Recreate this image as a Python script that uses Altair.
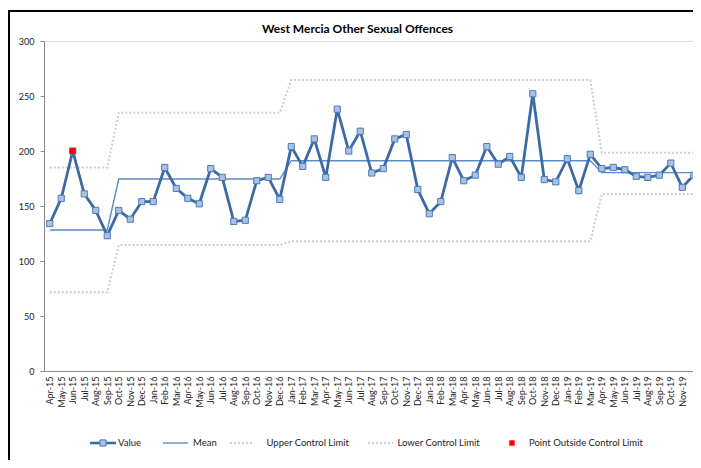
import altair as alt
import pandas as pd

months = ["Apr-15","May-15","Jun-15","Jul-15","Aug-15","Sep-15","Oct-15","Nov-15","Dec-15",
          "Jan-16","Feb-16","Mar-16","Apr-16","May-16","Jun-16","Jul-16","Aug-16","Sep-16","Oct-16","Nov-16","Dec-16",
          "Jan-17","Feb-17","Mar-17","Apr-17","May-17","Jun-17","Jul-17","Aug-17","Sep-17","Oct-17","Nov-17","Dec-17",
          "Jan-18","Feb-18","Mar-18","Apr-18","May-18","Jun-18","Jul-18","Aug-18","Sep-18","Oct-18","Nov-18","Dec-18",
          "Jan-19","Feb-19","Mar-19","Apr-19","May-19","Jun-19","Jul-19","Aug-19","Sep-19","Oct-19","Nov-19","Dec-19"]

values = [134, 157, 200, 161, 146, 123, 146, 138, 154,
          154, 185, 166, 157, 152, 184, 176, 136, 137, 173, 176, 156,
          204, 186, 211, 176, 238, 200, 218, 180, 184, 211, 215, 165,
          143, 154, 194, 173, 178, 204, 188, 195, 176, 252, 174, 172,
          193, 164, 197, 184, 185, 183, 177, 176, 178, 189, 167, 178]

mean = [128.2, 128.2, 128.2, 128.2, 128.2, 128.2,
        174.5, 174.5, 174.5, 174.5, 174.5, 174.5, 174.5, 174.5, 174.5, 174.5, 174.5, 174.5, 174.5, 174.5, 174.5,
        191.2, 191.2, 191.2, 191.2, 191.2, 191.2, 191.2, 191.2, 191.2, 191.2, 191.2, 191.2, 191.2, 191.2,
        191.2, 191.2, 191.2, 191.2, 191.2, 191.2, 191.2, 191.2, 191.2, 191.2, 191.2, 191.2, 191.2,
        180.3, 180.3, 180.3, 180.3, 180.3, 180.3, 180.3, 180.3, 180.3]

ucl = [185.0, 185.0, 185.0, 185.0, 185.0, 185.0,
       234.8, 234.8, 234.8, 234.8, 234.8, 234.8, 234.8, 234.8, 234.8, 234.8, 234.8, 234.8, 234.8, 234.8, 234.8,
       264.5, 264.5, 264.5, 264.5, 264.5, 264.5, 264.5, 264.5, 264.5, 264.5, 264.5, 264.5, 264.5, 264.5,
       264.5, 264.5, 264.5, 264.5, 264.5, 264.5, 264.5, 264.5, 264.5, 264.5, 264.5, 264.5, 264.5,
       198.5, 198.5, 198.5, 198.5, 198.5, 198.5, 198.5, 198.5, 198.5]

lcl = [71.5, 71.5, 71.5, 71.5, 71.5, 71.5,
       114.5, 114.5, 114.5, 114.5, 114.5, 114.5, 114.5, 114.5, 114.5, 114.5, 114.5, 114.5, 114.5, 114.5, 114.5,
       118.0, 118.0, 118.0, 118.0, 118.0, 118.0, 118.0, 118.0, 118.0, 118.0, 118.0, 118.0, 118.0, 118.0,
       118.0, 118.0, 118.0, 118.0, 118.0, 118.0, 118.0, 118.0, 118.0, 118.0, 118.0, 118.0, 118.0,
       161.0, 161.0, 161.0, 161.0, 161.0, 161.0, 161.0, 161.0, 161.0]

title_text = "West Mercia Other Sexual Offences"
legend_labels = ["Value", "Mean", "Upper Control Limit", "Lower Control Limit", "Point Outside Control Limit"]

FONT = "Lato"
df = pd.DataFrame({"idx": list(range(len(months))), "month": months,
                   "value": values, "mean": mean, "ucl": ucl, "lcl": lcl})
df["outside"] = [v if (v > u or v < l) else None for v, u, l in zip(values, ucl, lcl)]

label_array = "[" + ",".join("'" + m + "'" for m in months) + "]"

W, H = 649, 330
PAD_L, PAD_T, PAD_B = 36, 33, 89
x_axis = alt.Axis(values=list(range(len(months))), labelExpr=label_array + "[datum.value]",
                  labelAngle=-90, labelOverlap=False, labelFlush=False, labelBound=False,
                  ticks=False, grid=False, title=None, labelFont=FONT, labelFontSize=9,
                  labelColor="#222222", labelPadding=5, domainColor="#8a8a8a", domainWidth=1)
x_scale = alt.Scale(domain=[-0.5, 55.93], nice=False, zero=False)
y_scale = alt.Scale(domain=[0, 300], nice=False)
y_axis = alt.Axis(values=[0, 50, 100, 150, 200, 250, 300], grid=False, title=None, labelFont=FONT,
                  labelFontSize=9, labelColor="#222222", tickColor="#8a8a8a", tickSize=4,
                  domainColor="#8a8a8a", labelPadding=6)


def X():
    return alt.X("idx:Q", scale=x_scale, axis=x_axis)


def Y(field):
    return alt.Y(field + ":Q", scale=y_scale, axis=y_axis)


base = alt.Chart(df)

ucl_line = base.mark_line(color="#c3cfe0", strokeWidth=2, strokeDash=[2, 2]).encode(x=X(), y=Y("ucl"))
lcl_line = base.mark_line(color="#c3cfe0", strokeWidth=2, strokeDash=[2, 2]).encode(x=X(), y=Y("lcl"))
mean_line = base.mark_line(color="#5b8bc9", strokeWidth=1.4).encode(x=X(), y=Y("mean"))
value_line = base.mark_line(color="#3c6aa6", strokeWidth=2.8).encode(x=X(), y=Y("value"))
value_pts = base.mark_point(shape="square", size=38, filled=True, fill="#a9c1e3", stroke="#4a7bb7",
                            strokeWidth=1, opacity=1).encode(x=X(), y=Y("value"))
out_pts = base.transform_filter("datum.outside != null").mark_point(
    shape="square", size=34, filled=True, color="#ff0000", opacity=1).encode(x=X(), y=Y("outside"))

one = pd.DataFrame({"a": [0]})
# chart-area border (left and top edges; right and bottom lie beyond the picture)
frame_left = alt.Chart(one).mark_rect(color="#000000", opacity=1).encode(
    x=alt.value(-36), x2=alt.value(-34), y=alt.value(-31), y2=alt.value(H + PAD_B))
frame_top = alt.Chart(one).mark_rect(color="#000000", opacity=1).encode(
    x=alt.value(-36), x2=alt.value(W), y=alt.value(-31), y2=alt.value(-29))
title = alt.Chart(one).mark_text(text=title_text, font=FONT, fontSize=12, fontWeight="bold",
                                 color="#000000", align="center", baseline="alphabetic").encode(
    x=alt.value(313.5), y=alt.value(-8))

LY = 402
leg_layers = []
tcfg = dict(font=FONT, fontSize=9.5, color="#222222", align="left", baseline="middle")
leg_layers.append(alt.Chart(one).mark_rule(color="#3c6aa6", strokeWidth=2.6).encode(
    x=alt.value(46), x2=alt.value(72), y=alt.value(LY)))
leg_layers.append(alt.Chart(one).mark_point(shape="square", size=38, filled=True, fill="#a9c1e3",
                                            stroke="#4a7bb7", strokeWidth=1, opacity=1).encode(
    x=alt.value(59), y=alt.value(LY)))
leg_layers.append(alt.Chart(one).mark_text(text=legend_labels[0], **tcfg).encode(x=alt.value(74), y=alt.value(LY)))
leg_layers.append(alt.Chart(one).mark_rule(color="#5b8bc9", strokeWidth=1.4).encode(
    x=alt.value(119), x2=alt.value(144), y=alt.value(LY)))
leg_layers.append(alt.Chart(one).mark_text(text=legend_labels[1], **tcfg).encode(x=alt.value(149), y=alt.value(LY)))
leg_layers.append(alt.Chart(one).mark_rule(color="#c3cfe0", strokeWidth=2, strokeDash=[2, 2]).encode(
    x=alt.value(186), x2=alt.value(210), y=alt.value(LY)))
leg_layers.append(alt.Chart(one).mark_text(text=legend_labels[2], **tcfg).encode(x=alt.value(222.5), y=alt.value(LY)))
leg_layers.append(alt.Chart(one).mark_rule(color="#c3cfe0", strokeWidth=2, strokeDash=[2, 2]).encode(
    x=alt.value(324), x2=alt.value(349), y=alt.value(LY)))
leg_layers.append(alt.Chart(one).mark_text(text=legend_labels[3], **tcfg).encode(x=alt.value(353.5), y=alt.value(LY)))
leg_layers.append(alt.Chart(one).mark_point(shape="square", size=30, filled=True, color="#ff0000",
                                            opacity=1).encode(x=alt.value(468), y=alt.value(LY)))
leg_layers.append(alt.Chart(one).mark_text(text=legend_labels[4], **tcfg).encode(x=alt.value(485), y=alt.value(LY)))

chart = alt.layer(ucl_line, lcl_line, mean_line, value_line, value_pts, out_pts, title,
                  frame_left, frame_top, *leg_layers).properties(
    width=W, height=H,
    autosize=alt.AutoSizeParams(type="none"),
    padding={"left": PAD_L, "top": PAD_T, "right": 0, "bottom": PAD_B},
).configure_view(strokeWidth=0, stroke="transparent").configure(background="#ffffff")

chart.save("out.html", embed_options={"renderer": "svg", "actions": False})
